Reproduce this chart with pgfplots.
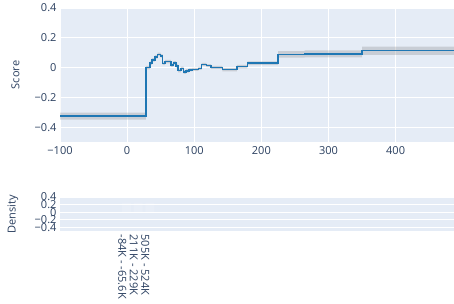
\documentclass[border=0pt]{standalone}
\usepackage{fontspec}
\setmainfont{Open Sans}
\usepackage{pgfplots}
\usepackage{pgfplotstable}
\pgfplotsset{compat=1.18}
\definecolor{plotbg}{HTML}{E5ECF6}
\definecolor{txt}{HTML}{2A3F5F}
\definecolor{lineblue}{HTML}{1F77B4}
\pgfplotstableread{
x y
-100 -0.326
28 0.000
34 0.030
37 0.052
41.5 0.072
45.5 0.088
50 0.078
53 0.028
56.5 0.040
65 0.016
69 0.032
73 0.012
76 -0.020
80 -0.005
84 -0.030
88 -0.022
92 -0.016
97 -0.012
106 -0.006
111 0.022
118 0.013
125 0.002
142 -0.014
163.5 0.006
179 0.029
225 0.088
264.5 0.092
350 0.113
487 0.113
}\scoredata
\pgfplotstableread{
x y
-100 -0.302
28 -0.302
28 0.012
34 0.012
34 0.042
37 0.042
37 0.064
41.5 0.064
41.5 0.084
45.5 0.084
45.5 0.100
50 0.100
50 0.090
53 0.090
53 0.040
56.5 0.040
56.5 0.052
65 0.052
65 0.028
69 0.028
69 0.044
73 0.044
73 0.024
76 0.024
76 -0.008
80 -0.008
80 0.007
84 0.007
84 -0.018
88 -0.018
88 -0.010
92 -0.010
92 -0.006
97 -0.006
97 -0.002
106 -0.002
106 0.004
111 0.004
111 0.032
118 0.032
118 0.023
125 0.023
125 0.012
142 0.012
142 -0.002
163.5 -0.002
163.5 0.018
179 0.018
179 0.041
225 0.041
225 0.110
264.5 0.110
264.5 0.116
350 0.116
350 0.141
487 0.141
487 0.085
350 0.085
350 0.068
264.5 0.068
264.5 0.066
225 0.066
225 0.017
179 0.017
179 -0.006
163.5 -0.006
163.5 -0.026
142 -0.026
142 -0.008
125 -0.008
125 0.003
118 0.003
118 0.012
111 0.012
111 -0.016
106 -0.016
106 -0.022
97 -0.022
97 -0.026
92 -0.026
92 -0.034
88 -0.034
88 -0.042
84 -0.042
84 -0.017
80 -0.017
80 -0.032
76 -0.032
76 0.000
73 0.000
73 0.020
69 0.020
69 0.004
65 0.004
65 0.028
56.5 0.028
56.5 0.016
53 0.016
53 0.066
50 0.066
50 0.076
45.5 0.076
45.5 0.060
41.5 0.060
41.5 0.040
37 0.040
37 0.018
34 0.018
34 -0.012
28 -0.012
28 -0.350
-100 -0.350
}\banddata
\begin{document}
\begin{tikzpicture}[font=\fontsize{11}{13}\selectfont]
\path[use as bounding box] (0pt,0pt) rectangle (454pt,303pt);
\begin{axis}[
  at={(60pt,161pt)}, anchor=south west,
  scale only axis, width=394pt, height=134pt,
  xmin=-100, xmax=487, ymin=-0.5, ymax=0.4,
  axis background/.style={fill=plotbg},
  axis line style={draw=none},
  major tick length=0pt,
  grid=major,
  major grid style={white, line width=1pt},
  xtick={-100,0,100,200,300,400},
  xticklabels={−100,0,100,200,300,400},
  ytick={-0.4,-0.2,0,0.2,0.4},
  yticklabels={−0.4,−0.2,0,0.2,0.4},
  tick label style={text=txt},
  ylabel={Score},
  ylabel style={text=txt, at={(axis description cs:-0.094,0.5)}, anchor=south},
  xticklabel style={yshift=-1pt},
]
\addplot[fill=gray, fill opacity=0.28, draw=none] table[x=x, y=y] {\banddata} \closedcycle;
\addplot[const plot, color=lineblue, line width=1.5pt] table[x=x, y=y] {\scoredata};
\end{axis}
\begin{axis}[
  at={(60pt,72pt)}, anchor=south west,
  scale only axis, width=394pt, height=34pt,
  xmin=-5.5, xmax=28.74, ymin=-0.5, ymax=0.4,
  axis background/.style={fill=plotbg},
  axis line style={draw=none},
  major tick length=0pt,
  ymajorgrids=true,
  major grid style={white, line width=1pt},
  xtick={0,1,2},
  xticklabels={-84K - -65.6K, 211K - 229K, 505K - 524K},
  xticklabel style={rotate=-90, anchor=west, text=txt, yshift=-1pt},
  ytick={-0.4,-0.2,0,0.2,0.4},
  yticklabels={−0.4,−0.2,0,0.2,0.4},
  yticklabel style={text=txt},
  ylabel={Density},
  ylabel style={text=txt, at={(axis description cs:-0.097,0.5)}, anchor=south},
]
\addplot[ybar, bar width=9pt, draw=none, fill=white, fill opacity=0.15] coordinates {(0.3,0.25) (1.3,0.25) (2.3,0.25)};
\end{axis}
\end{tikzpicture}
\end{document}
